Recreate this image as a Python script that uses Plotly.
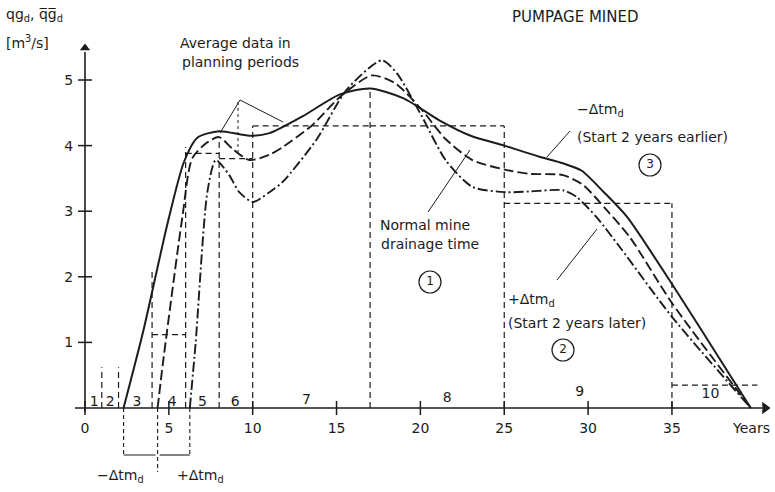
import plotly.graph_objects as go

# ---------------- data ----------------
# curve 3: start 2 years earlier (solid)
years_earlier = [2.3, 3.5, 4.9, 5.9, 6.7, 8.0, 9.8, 11.0, 13.0, 15.2, 17.0, 19.0, 21.1, 23.0, 25.0,
                 27.1, 28.5, 29.6, 30.9, 32.3, 35.0, 37.0, 39.7]
q_earlier = [0.0, 1.2, 2.79, 3.75, 4.12, 4.22, 4.15, 4.19, 4.45, 4.78, 4.87, 4.72, 4.39, 4.15, 4.0,
             3.83, 3.73, 3.62, 3.3, 2.92, 1.89, 1.09, 0.0]

# curve 1: normal mine drainage time (dashed)
years_normal = [4.33, 4.65, 5.8, 6.4, 7.3, 8.0, 8.8, 9.8, 11.0, 11.8, 13.5, 15.2, 17.1, 18.5, 20.1,
                21.5, 23.1, 25.1, 26.5, 28.5, 29.7, 31.1, 32.5, 35.0, 39.7]
q_normal = [0.0, 0.69, 2.9, 3.81, 4.05, 4.13, 3.95, 3.78, 3.86, 3.98, 4.3, 4.74, 5.07, 4.95, 4.54,
            4.1, 3.78, 3.63, 3.57, 3.55, 3.4, 3.02, 2.6, 1.6, 0.0]

# curve 2: start 2 years later (dash-dot)
years_later = [6.25, 6.6, 7.3, 7.8, 8.6, 9.2, 10.0, 11.0, 11.8, 13.8, 15.6, 17.7, 18.6, 20.1, 21.5,
               23.1, 25.1, 26.5, 28.5, 29.3, 30.5, 31.9, 35.0, 39.7]
q_later = [0.0, 1.0, 3.3, 3.78, 3.55, 3.29, 3.14, 3.29, 3.45, 4.09, 4.85, 5.3, 5.1, 4.44, 3.78,
           3.37, 3.29, 3.3, 3.32, 3.22, 2.91, 2.45, 1.39, 0.0]

# average data in planning periods
period_labels = ["1", "2", "3", "4", "5", "6", "7", "8", "9", "10"]
period_bounds = [0, 1, 2, 4, 6, 8, 10, 17, 25, 35, 40.1]
period_avg = [None, None, None, 1.12, 3.88, 3.80, 4.30, 4.30, 3.12, 0.35]
boundary_height = [0.62, 0.62, 2.13, 3.98, 4.13, 4.30, 4.82, 4.30, 3.12]
period_label_x = [0.55, 1.5, 3.1, 5.2, 7.0, 8.95, 13.2, 21.6, 29.5, 37.3]
period_label_y = [0.09, 0.09, 0.09, 0.09, 0.09, 0.09, 0.12, 0.15, 0.23, 0.2]

x_ticks = [0, 5, 10, 15, 20, 25, 30, 35]
y_ticks = [1, 2, 3, 4, 5]

# ---------------- geometry ----------------
W, H = 775, 492
X0PX, XS = 85, 16.77     # pixel of year 0, pixels per year
Y0PX, YS = 408, 65.6     # pixel of q=0, pixels per m3/s
xr = [-X0PX / XS, (W - X0PX) / XS]
yr = [-(H - Y0PX) / YS, Y0PX / YS]

def dx(px):
    return (px - X0PX) / XS

def dy(py):
    return (Y0PX - py) / YS

INK = "#1c1c1c"
FONT = "DejaVu Sans, Liberation Sans, sans-serif"

fig = go.Figure()

# curves
fig.add_trace(go.Scatter(x=years_earlier, y=q_earlier, mode="lines",
                         line=dict(color=INK, width=2.0, shape="spline", smoothing=0.7)))
fig.add_trace(go.Scatter(x=years_normal, y=q_normal, mode="lines",
                         line=dict(color=INK, width=1.9, dash="10px,4px", shape="spline", smoothing=0.7)))
fig.add_trace(go.Scatter(x=years_later, y=q_later, mode="lines",
                         line=dict(color=INK, width=1.9, dash="10px,3px,2px,3px", shape="spline", smoothing=0.7)))

# average step lines and period boundaries
avg_dash = dict(color=INK, width=1.2, dash="6px,4px")
for i, a in enumerate(period_avg):
    if a is not None:
        fig.add_trace(go.Scatter(x=[period_bounds[i], period_bounds[i + 1]], y=[a, a], mode="lines",
                                 line=avg_dash))
for b, h in zip(period_bounds[1:-1], boundary_height):
    fig.add_trace(go.Scatter(x=[b, b], y=[0, h], mode="lines", line=avg_dash))

# axes lines
fig.add_trace(go.Scatter(x=[dx(75), dx(762)], y=[0, 0], mode="lines", line=dict(color=INK, width=1.6)))
fig.add_trace(go.Scatter(x=[0, 0], y=[-0.06, dy(52)], mode="lines", line=dict(color=INK, width=1.6)))
fig.add_trace(go.Scatter(x=[dx(765)], y=[0], mode="markers",
                         marker=dict(symbol="triangle-right", size=11, color=INK)))
fig.add_trace(go.Scatter(x=[0], y=[dy(48)], mode="markers",
                         marker=dict(symbol="triangle-up", size=9, color=INK)))
# tick crosses
fig.add_trace(go.Scatter(x=x_ticks, y=[0] * len(x_ticks), mode="markers",
                         marker=dict(symbol="line-ns", size=10, line=dict(color=INK, width=1.5))))
fig.add_trace(go.Scatter(x=[0] * len(y_ticks), y=y_ticks, mode="markers",
                         marker=dict(symbol="line-ew", size=10, line=dict(color=INK, width=1.5))))

# period numbers
fig.add_trace(go.Scatter(x=period_label_x, y=period_label_y, mode="text", text=period_labels,
                         textposition="middle center", textfont=dict(family=FONT, size=14, color=INK)))

# start shift markers below the axis
s_e, s_n, s_l = years_earlier[0], years_normal[0], years_later[0]
yb = dy(455)
thin = dict(color=INK, width=1.1, dash="4px,3px")
fig.add_trace(go.Scatter(x=[s_e, s_e], y=[0, yb], mode="lines", line=thin))
fig.add_trace(go.Scatter(x=[s_n, s_n], y=[0, dy(472)], mode="lines", line=thin))
fig.add_trace(go.Scatter(x=[s_l, s_l], y=[0, yb], mode="lines", line=thin))
fig.add_trace(go.Scatter(x=[s_e, s_n - 0.12], y=[yb, yb], mode="lines", line=dict(color=INK, width=1.1)))
fig.add_trace(go.Scatter(x=[s_n + 0.12, s_l], y=[yb, yb], mode="lines", line=dict(color=INK, width=1.1)))

# circled numbers
circ_x = [dx(430), dx(563), dx(650)]
circ_y = [dy(282), dy(350), dy(165)]
fig.add_trace(go.Scatter(x=circ_x, y=circ_y, mode="markers+text", text=["1", "2", "3"],
                         textposition="middle center", textfont=dict(family=FONT, size=12, color=INK),
                         marker=dict(symbol="circle-open", size=22, line=dict(color=INK, width=1.2),
                                     color=INK)))

# callout lines
callouts = [
    ((240, 100), (220, 133)),
    ((240, 100), (283, 122)),
    ((428, 212), (470, 150)),
    ((570, 131), (547, 157)),
    ((557, 280), (597, 229)),
]
for (x1, y1), (x2, y2) in callouts:
    fig.add_shape(type="line", x0=dx(x1), y0=dy(y1), x1=dx(x2), y1=dy(y2),
                  line=dict(color=INK, width=1))
fig.add_shape(type="line", x0=dx(238), y0=dy(102), x1=dx(238), y1=dy(155),
              line=dict(color=INK, width=1, dash="3px,3px"))

# texts (pixel positions)
def txt(px, py, s, size=14, anchor="left"):
    fig.add_annotation(x=px / W, y=1 - py / H, xref="paper", yref="paper", text=s, showarrow=False,
                       xanchor=anchor, yanchor="middle", font=dict(family=FONT, size=size, color=INK))

txt(575, 17, "PUMPAGE MINED", 15, "center")
txt(4, 15, "qg<sub>d</sub>, q\u0305g\u0305<sub>d</sub>", 14)
txt(4, 42, "[m<sup>3</sup>/s]", 14)
txt(178, 43, "Average data in", 14)
txt(180, 62, "planning periods", 14)
txt(378, 225, "Normal mine", 14)
txt(379, 244, "drainage time", 14)
txt(575, 110, "\u2212\u0394tm<sub>d</sub>", 14)
txt(575, 137, "(Start 2 years earlier)", 14)
txt(506, 300, "+\u0394tm<sub>d</sub>", 14)
txt(506, 323, "(Start 2 years later)", 14)
txt(120, 476, "\u2212\u0394tm<sub>d</sub>", 14, "center")
txt(200, 476, "+\u0394tm<sub>d</sub>", 14, "center")
txt(751, 428, "Years", 14, "center")

fig.update_layout(
    width=W, height=H, margin=dict(l=0, r=0, t=0, b=0),
    paper_bgcolor="white", plot_bgcolor="white", showlegend=False,
    xaxis=dict(range=xr, showgrid=False, zeroline=False, showline=False, tickvals=x_ticks,
               ticks="outside", ticklen=7, tickcolor="rgba(0,0,0,0)",
               anchor="free", position=(H - Y0PX) / H, automargin=False,
               tickfont=dict(family=FONT, size=14, color=INK), fixedrange=True),
    yaxis=dict(range=yr, showgrid=False, zeroline=False, showline=False, tickvals=y_ticks,
               ticks="outside", ticklen=9, tickcolor="rgba(0,0,0,0)",
               anchor="free", position=X0PX / W, automargin=False,
               tickfont=dict(family=FONT, size=14, color=INK), fixedrange=True),
)

fig.write_html("out.html", config={"displayModeBar": False},
               post_script="document.body.style.margin='0px';")
